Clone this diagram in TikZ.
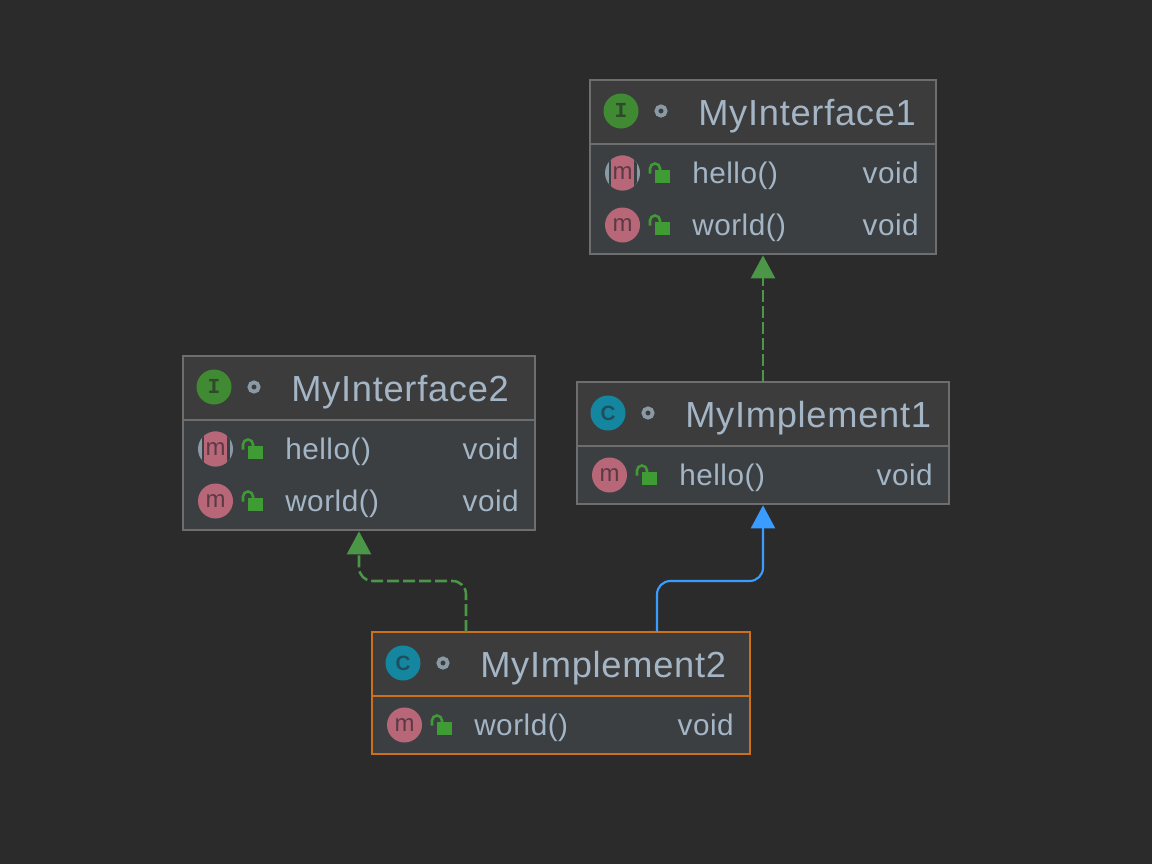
\documentclass[tikz,border=0pt]{standalone}
\usepackage{fontspec}
\setmainfont{Liberation Sans}
\newfontfamily\titlefont[LetterSpace=2.0]{Liberation Sans}
\newfontfamily\rowfont[LetterSpace=1.7]{Liberation Sans}
\newfontfamily\iconslab{Liberation Mono}
\usetikzlibrary{arrows.meta, calc}

\definecolor{canvasbg}{HTML}{2B2B2B}
\definecolor{headbg}{HTML}{3C3C3C}
\definecolor{bodybg}{HTML}{3C3F41}
\definecolor{boxline}{HTML}{6E6E6E}
\definecolor{pickline}{HTML}{CC7019}
\definecolor{labeltext}{HTML}{A4B5C6}
\definecolor{implgreen}{HTML}{4C9648}
\definecolor{extendblue}{HTML}{3B9CFF}
\definecolor{lockgreen}{HTML}{3F9C35}
\definecolor{ifacegreen}{HTML}{3F8A32}
\definecolor{classteal}{HTML}{14869F}
\definecolor{methodpink}{HTML}{B86779}
\definecolor{ringgray}{HTML}{8A9AA5}
\definecolor{ifaceglyph}{HTML}{2F4A2B}
\definecolor{classglyph}{HTML}{1E4F5F}
\definecolor{methodglyph}{HTML}{5C3A44}

\tikzset{
    headbox/.style={rectangle, draw=boxline, fill=headbg, line width=1.5pt, outer sep=0pt, inner sep=0pt},
    bodybox/.style={rectangle, draw=boxline, fill=bodybg, line width=1.5pt, outer sep=0pt, inner sep=0pt},
    picked/.style={draw=pickline},
    iconbase/.style={circle, minimum size=26.25pt, inner sep=0pt, outer sep=0pt},
    ifaceicon/.style={iconbase, fill=ifacegreen, text=ifaceglyph, text height=9pt, text depth=0pt, font=\fontsize{16}{16}\selectfont\iconslab\bfseries},
    classicon/.style={iconbase, fill=classteal, text=classglyph, text height=11.2pt, text depth=0pt, font=\fontsize{15.5}{15.5}\selectfont\bfseries},
    methodicon/.style={iconbase, fill=methodpink, text=methodglyph, text height=10pt, text depth=0pt, font=\fontsize{18}{18}\selectfont},
    abstracticon/.style={iconbase, fill=ringgray, text=methodglyph, text height=10pt, text depth=0pt, font=\fontsize{18}{18}\selectfont,
        path picture={
            \fill[bodybg] ([xshift=-10.5pt]path picture bounding box.south) rectangle ([xshift=10.5pt]path picture bounding box.north);
            \fill[methodpink, rounded corners=2pt] ([xshift=-8.5pt]path picture bounding box.south) rectangle ([xshift=8.5pt]path picture bounding box.north);
        }},
    ringdot/.style={circle, draw=ringgray, line width=2.8pt, minimum size=7pt, inner sep=0pt},
    titletext/.style={anchor=base west, inner sep=0pt, text=labeltext, font=\fontsize{27.2}{27.2}\selectfont\titlefont},
    rowtext/.style={anchor=base west, inner sep=0pt, text=labeltext, font=\fontsize{22.3}{22.3}\selectfont\rowfont},
    typetext/.style={anchor=base east, inner sep=0pt, text=labeltext, font=\fontsize{22.3}{22.3}\selectfont\rowfont},
    realizes/.style={draw=implgreen, line width=1.9pt, dash pattern=on 9pt off 3pt, rounded corners=10pt, shorten >=1pt,
        -{Triangle[length=17.25pt, width=18pt, fill=implgreen, sep=0pt]}},
    extends/.style={draw=extendblue, line width=1.6pt, rounded corners=10pt, shorten >=1pt,
        -{Triangle[length=17.25pt, width=18pt, fill=extendblue]}},
    lockicon/.pic={
        \fill[lockgreen] (-7,-6.5) rectangle (8,6.5);
        \draw[lockgreen, line width=1.9pt] (-12,-3) -- (-12,-8) arc[start angle=180, end angle=360, radius=5] -- (-2,-6.5);
    }
}

\begin{document}
\begin{tikzpicture}[x=0.75pt, y=-0.75pt]
    \useasboundingbox[fill=canvasbg] (0, 0) rectangle (1152, 864);

    % MyInterface1
    \node[headbox, minimum width=259.5pt, minimum height=48pt] (head1) at (763, 112) {};
    \node[bodybox, minimum width=259.5pt, minimum height=82.5pt] (body1) at (763, 199) {};
    \node[ifaceicon] (icon1) at (621, 111) {I};
    \node[ringdot] (ring1) at (661, 111) {};
    \node[titletext] (title1) at (698, 125) {MyInterface1};
    \node[abstracticon] (m11) at (622.5, 173) {m};
    \pic at (662, 176.5) {lockicon};
    \node[rowtext] (name11) at (692, 183) {hello()};
    \node[typetext] (type11) at (919, 183) {void};
    \node[methodicon] (m12) at (622.5, 225) {m};
    \pic at (662, 228.5) {lockicon};
    \node[rowtext] (name12) at (692, 235) {world()};
    \node[typetext] (type12) at (919, 235) {void};

    % MyInterface2
    \node[headbox, minimum width=264pt, minimum height=48pt] (head2) at (359, 388) {};
    \node[bodybox, minimum width=264pt, minimum height=82.5pt] (body2) at (359, 475) {};
    \node[ifaceicon] (icon2) at (214, 387) {I};
    \node[ringdot] (ring2) at (254, 387) {};
    \node[titletext] (title2) at (291, 401) {MyInterface2};
    \node[abstracticon] (m21) at (215.5, 449) {m};
    \pic at (255, 452.5) {lockicon};
    \node[rowtext] (name21) at (285, 459) {hello()};
    \node[typetext] (type21) at (519, 459) {void};
    \node[methodicon] (m22) at (215.5, 501) {m};
    \pic at (255, 504.5) {lockicon};
    \node[rowtext] (name22) at (285, 511) {world()};
    \node[typetext] (type22) at (519, 511) {void};

    % MyImplement1
    \node[headbox, minimum width=279pt, minimum height=48pt] (head3) at (763, 414) {};
    \node[bodybox, minimum width=279pt, minimum height=43.5pt] (body3) at (763, 475) {};
    \node[classicon] (icon3) at (608, 413) {C};
    \node[ringdot] (ring3) at (648, 413) {};
    \node[titletext] (title3) at (685, 427) {MyImplement1};
    \node[methodicon] (m31) at (609.5, 475) {m};
    \pic at (649, 478.5) {lockicon};
    \node[rowtext] (name31) at (679, 485) {hello()};
    \node[typetext] (type31) at (933, 485) {void};

    % MyImplement2
    \node[headbox, picked, minimum width=283.5pt, minimum height=48pt] (head4) at (561, 664) {};
    \node[bodybox, picked, minimum width=283.5pt, minimum height=43.5pt] (body4) at (561, 725) {};
    \node[classicon] (icon4) at (403, 663) {C};
    \node[ringdot] (ring4) at (443, 663) {};
    \node[titletext] (title4) at (480, 677) {MyImplement2};
    \node[methodicon] (m41) at (404.5, 725) {m};
    \pic at (444, 728.5) {lockicon};
    \node[rowtext] (name41) at (474, 735) {world()};
    \node[typetext] (type41) at (734, 735) {void};

    \draw[realizes] (head3.north) -- (body1.south);
    \draw[realizes] ($(head4.north)+(-95, 0)$) -- ++(0, -51) -| (body2.south);
    \draw[extends] ($(head4.north)+(96, 0)$) -- ++(0, -51) -| (body3.south);
\end{tikzpicture}
\end{document}
